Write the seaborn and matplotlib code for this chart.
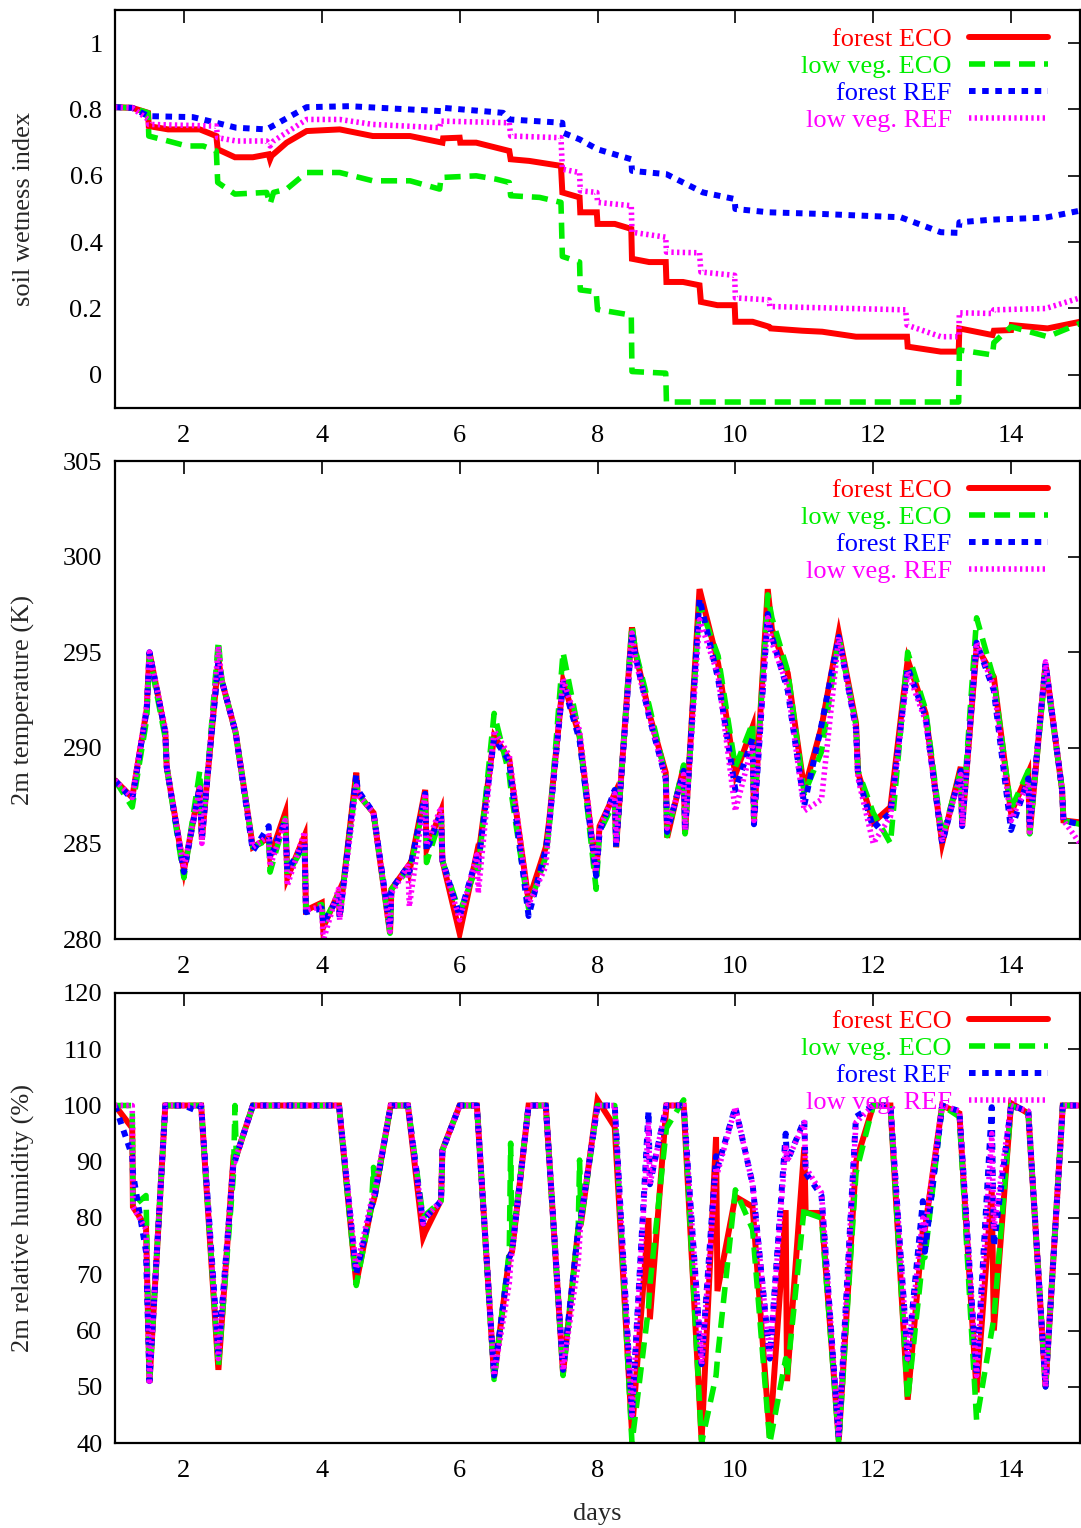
import matplotlib
matplotlib.use("Agg")
import matplotlib.pyplot as plt
import seaborn as sns

# ---------------- soil wetness index (each run has its own time axis) ----------------
sw_days_forest_eco = [1.0, 1.25, 1.48, 1.49, 1.77, 2.23, 2.47, 2.49, 2.74, 3.0, 3.23, 3.25, 3.27, 3.49, 3.78,
                      4.26, 4.74, 5.28, 5.75, 5.76, 6.0, 6.01, 6.24, 6.72, 6.74, 7.01, 7.47, 7.49, 7.74, 7.75,
                      7.99, 8.0, 8.25, 8.49, 8.5, 8.75, 8.99, 9.0, 9.24, 9.48, 9.5, 9.74, 9.99, 10.0, 10.25,
                      10.49, 10.51, 10.97, 11.26, 11.75, 12.49, 12.5, 12.98, 13.24, 13.25, 13.49, 13.73,
                      13.75, 14.0, 14.01, 14.53, 15.0]
sw_forest_eco = [0.807, 0.805, 0.79, 0.75, 0.74, 0.74, 0.72, 0.68, 0.656, 0.656, 0.665, 0.65, 0.66, 0.70, 0.735,
                 0.74, 0.72, 0.72, 0.70, 0.713, 0.715, 0.70, 0.70, 0.675, 0.65, 0.645, 0.63, 0.55, 0.535, 0.49,
                 0.49, 0.455, 0.455, 0.44, 0.35, 0.34, 0.34, 0.28, 0.28, 0.27, 0.22, 0.21, 0.21, 0.16, 0.16,
                 0.145, 0.14, 0.133, 0.13, 0.115, 0.115, 0.085, 0.07, 0.07, 0.14, 0.13, 0.12,
                 0.133, 0.135, 0.15, 0.14, 0.16]

sw_days_lowveg_eco = [1.0, 1.25, 1.48, 1.49, 1.77, 2.04, 2.28, 2.47, 2.49, 2.74, 3.2, 3.25, 3.3, 3.49, 3.78,
                      4.26, 4.74, 5.28, 5.71, 5.73, 6.24, 6.53, 6.72, 6.74, 7.16, 7.47, 7.49, 7.74, 7.75,
                      7.98, 8.0, 8.49, 8.5, 8.99, 9.0, 13.24, 13.25, 13.73, 13.75, 14.0, 14.53, 15.0]
sw_lowveg_eco = [0.807, 0.805, 0.79, 0.72, 0.705, 0.69, 0.69, 0.675, 0.58, 0.545, 0.55, 0.515, 0.55, 0.56, 0.61,
                 0.61, 0.585, 0.585, 0.56, 0.595, 0.60, 0.59, 0.58, 0.54, 0.535, 0.52, 0.357, 0.34, 0.256,
                 0.25, 0.197, 0.18, 0.01, 0.005, -0.082, -0.082, 0.075, 0.06, 0.097, 0.145, 0.115, 0.155]

sw_days_forest_ref = [1.0, 1.25, 1.48, 2.13, 2.47, 2.76, 3.2, 3.78, 4.4, 5.74, 5.76, 6.63, 6.72, 7.49, 7.5,
                      7.74, 8.0, 8.49, 8.5, 9.0, 9.53, 9.99, 10.0, 10.49, 11.26, 12.4, 12.98, 13.24, 13.25,
                      13.73, 14.5, 15.0]
sw_forest_ref = [0.807, 0.805, 0.78, 0.777, 0.76, 0.745, 0.74, 0.807, 0.81, 0.795, 0.805, 0.79, 0.77, 0.76, 0.73,
                 0.71, 0.68, 0.65, 0.615, 0.605, 0.55, 0.53, 0.50, 0.49, 0.485, 0.475, 0.43, 0.428, 0.46,
                 0.468, 0.474, 0.495]

sw_days_lowveg_ref = [1.0, 1.25, 1.48, 1.49, 2.47, 2.49, 2.76, 3.2, 3.25, 3.3, 3.78, 4.26, 4.74, 5.71, 5.73,
                      6.72, 6.74, 7.47, 7.49, 7.74, 7.75, 7.99, 8.0, 8.49, 8.5, 8.99, 9.0, 9.48, 9.5, 9.99,
                      10.0, 10.49, 10.5, 12.47, 12.49, 12.98, 13.24, 13.25, 13.73, 13.75, 14.5, 15.0]
sw_lowveg_ref = [0.807, 0.805, 0.77, 0.755, 0.75, 0.715, 0.705, 0.705, 0.69, 0.705, 0.77, 0.77, 0.755, 0.745, 0.765,
                 0.76, 0.72, 0.715, 0.62, 0.61, 0.555, 0.55, 0.52, 0.51, 0.43, 0.415, 0.37, 0.368, 0.31, 0.30,
                 0.232, 0.226, 0.206, 0.196, 0.15, 0.115, 0.115, 0.187, 0.185, 0.196, 0.20, 0.232]

# ---------------- 2m temperature (K), shared output times ----------------
t2m_days = [1.0, 1.25, 1.46, 1.5, 1.73, 1.75, 2.0, 2.23, 2.26, 2.36, 2.5, 2.55, 2.75, 3.0, 3.23, 3.25,
            3.47, 3.5, 3.75, 3.77, 4.0, 4.02, 4.24, 4.26, 4.5, 4.52, 4.75, 4.99, 5.01, 5.25, 5.27, 5.5,
            5.52, 5.73, 5.75, 6.0, 6.25, 6.27, 6.5, 6.72, 6.75, 7.0, 7.25, 7.3, 7.5, 7.74, 7.98, 8.03,
            8.25, 8.27, 8.5, 8.55, 8.75, 8.99, 9.01, 9.25, 9.27, 9.48, 9.75, 10.0, 10.25, 10.27, 10.47,
            10.53, 10.76, 11.0, 11.25, 11.5, 11.75, 11.78, 12.0, 12.25, 12.5, 12.76, 13.0, 13.27, 13.29,
            13.5, 13.75, 14.0, 14.25, 14.27, 14.5, 14.74, 14.76, 15.0]
t2m_forest_eco = [288.3, 287.4, 292.0, 295.0, 290.8, 289.0, 283.6, 288.0, 285.2, 289.2, 294.6, 293.5, 290.8,
                  284.8, 285.3, 284.3, 286.6, 283.2, 285.4, 281.5, 281.9, 280.6, 282.4, 281.2, 288.7, 287.6,
                  286.6, 280.3, 282.6, 283.8, 283.5, 287.8, 284.7, 286.7, 284.1, 280.3, 284.5, 284.3, 290.6,
                  289.4, 288.5, 282.0, 284.8, 286.2, 293.5, 290.6, 283.4, 285.9, 287.6, 284.8, 296.3, 295.0,
                  291.8, 288.7, 285.3, 289.0, 285.5, 298.3, 294.4, 288.6, 291.1, 286.2, 298.3, 296.2, 293.9,
                  287.8, 291.1, 296.0, 291.3, 288.7, 286.1, 286.9, 294.6, 291.8, 285.0, 289.0, 285.9, 295.3,
                  293.7, 286.6, 288.7, 285.5, 294.4, 287.8, 286.2, 286.1]
t2m_lowveg_eco = [288.3, 286.9, 291.5, 294.8, 290.5, 289.0, 283.2, 288.8, 285.6, 289.4, 295.6, 293.5, 290.8,
                  284.8, 285.2, 283.5, 286.3, 283.4, 284.9, 281.6, 281.8, 280.8, 282.3, 281.3, 288.2, 287.6,
                  286.6, 280.3, 282.6, 283.6, 283.4, 287.4, 284.0, 286.4, 284.1, 281.4, 283.8, 283.6, 291.8,
                  288.6, 287.6, 281.6, 284.3, 285.8, 295.0, 290.6, 282.6, 285.6, 287.2, 284.8, 296.4, 295.1,
                  292.2, 288.5, 285.4, 289.1, 285.5, 297.5, 294.8, 289.0, 291.3, 286.4, 298.0, 296.8, 294.0,
                  287.6, 289.8, 295.8, 291.2, 288.8, 286.6, 285.0, 295.0, 292.0, 285.3, 288.8, 286.0, 296.8,
                  293.6, 286.8, 288.8, 285.5, 294.2, 287.8, 286.2, 286.0]
t2m_forest_ref = [288.3, 287.3, 292.0, 295.0, 290.8, 289.0, 283.5, 288.0, 285.2, 289.2, 294.4, 293.5, 290.8,
                  284.6, 285.9, 284.2, 286.2, 283.6, 285.0, 281.4, 281.6, 280.8, 282.2, 281.1, 288.6, 287.8,
                  286.6, 280.6, 282.6, 283.8, 283.5, 287.6, 284.6, 286.6, 284.1, 281.2, 284.3, 284.0, 290.5,
                  289.3, 288.3, 281.2, 284.7, 286.0, 293.4, 290.4, 283.3, 285.6, 287.8, 284.8, 296.0, 294.8,
                  291.6, 288.4, 285.6, 288.8, 285.6, 297.8, 293.6, 287.8, 290.5, 286.0, 297.0, 295.8, 293.0,
                  287.0, 291.2, 295.8, 291.0, 288.5, 285.8, 286.6, 294.2, 291.6, 285.0, 288.8, 285.9, 295.5,
                  293.0, 285.7, 288.4, 285.8, 294.4, 287.8, 286.2, 286.0]
t2m_lowveg_ref = [288.3, 287.4, 292.2, 295.0, 291.0, 289.0, 283.7, 287.9, 285.0, 289.3, 295.3, 293.5, 290.8,
                  284.8, 285.4, 283.8, 286.2, 282.8, 285.6, 281.5, 281.7, 279.9, 282.6, 281.0, 288.0, 287.6,
                  286.6, 280.4, 282.4, 283.8, 281.7, 287.6, 284.9, 286.9, 284.1, 281.0, 284.4, 282.4, 290.9,
                  289.6, 288.8, 281.8, 283.8, 286.0, 293.6, 290.9, 283.5, 285.8, 287.6, 285.0, 296.0, 294.6,
                  291.7, 288.4, 285.8, 288.6, 285.7, 296.7, 293.8, 286.7, 290.2, 286.2, 296.8, 295.5, 293.2,
                  286.7, 287.3, 295.8, 291.0, 288.4, 285.0, 286.4, 294.0, 291.4, 285.2, 288.6, 285.9, 295.5,
                  293.2, 286.2, 288.2, 285.6, 294.5, 287.8, 286.2, 285.0]

# ---------------- 2m relative humidity (%), shared output times ----------------
rh_days = [1.0, 1.25, 1.26, 1.45, 1.5, 1.73, 2.0, 2.2, 2.25, 2.5, 2.72, 2.74, 2.76, 3.0, 3.5, 4.0, 4.25,
           4.5, 4.72, 4.75, 4.77, 5.0, 5.25, 5.47, 5.5, 5.73, 5.75, 6.0, 6.25, 6.5, 6.72, 6.74, 6.76, 7.0,
           7.25, 7.5, 7.72, 7.74, 7.76, 8.0, 8.25, 8.5, 8.74, 8.76, 9.0, 9.25, 9.51, 9.72, 9.74, 10.0,
           10.25, 10.5, 10.73, 10.75, 11.0, 11.02, 11.25, 11.5, 11.75, 12.0, 12.25, 12.5, 12.72, 12.75,
           13.0, 13.25, 13.5, 13.72, 13.75, 14.0, 14.25, 14.5, 14.75, 15.0]
rh_forest_eco = [100, 96, 82, 78.4, 50.7, 100, 100, 100, 100, 53, 90.9, 91, 91, 100, 100, 100, 100,
                 68.4, 82, 83, 84, 100, 100, 76.6, 77.5, 83.2, 92.1, 100, 100, 51.7, 73.1, 73.5, 74, 100,
                 100, 52.4, 78, 78.5, 79, 101, 96.2, 42, 80, 62, 100, 100, 40.5, 94.4, 67, 83.8,
                 82, 41, 81.4, 51, 92.6, 80.9, 80.9, 40.5, 90, 100, 100, 47.7, 78, 78,
                 100, 98.6, 49, 85, 60, 100.4, 98.6, 50, 100, 100]
rh_lowveg_eco = [100, 100, 82, 84, 50.7, 100, 100, 100, 100, 53.6, 88, 100, 91, 100, 100, 100, 100,
                 68, 82, 89, 84, 100, 100, 80, 80.5, 83, 92, 100, 100, 51.3, 74, 93.3, 75, 100,
                 100, 52, 78, 90.3, 79, 100, 100, 40, 64, 68, 96, 101, 40, 52, 55, 85,
                 78, 40, 55, 52, 82, 81, 80, 40, 88, 100, 100, 47.7, 73, 73,
                 100, 98, 44, 60, 62, 100, 98.6, 50, 100, 100]
rh_forest_ref = [100, 91, 88, 74, 51, 100, 100, 99, 100, 56, 90, 90, 91, 100, 100, 100, 100,
                 70, 82, 83, 84, 100, 100, 79, 80, 83, 92, 100, 100, 52, 73, 73.5, 74, 100,
                 100, 53, 78, 79, 80, 100, 100, 45, 99, 86, 100, 100, 54, 91, 89, 99.7,
                 86, 55, 95, 90, 97.4, 88, 84, 41, 98, 100, 100, 55, 83, 74,
                 100, 99, 52, 99.7, 75, 100, 99, 50, 100, 100]
rh_lowveg_ref = [100, 100, 82, 78, 51, 100, 100, 100, 100, 55, 90, 90, 91, 100, 100, 100, 100,
                 71, 83, 84, 85, 100, 100, 79, 80, 83, 92, 100, 100, 52, 68.4, 72, 74, 100,
                 100, 53, 72, 76, 80, 100, 100, 45, 97, 86, 100, 100, 54, 89, 88, 99.7,
                 86, 55, 93, 90, 97, 89, 84.5, 41, 97, 100, 100, 55, 80, 78,
                 100, 99, 52, 95, 78, 100, 99, 50, 100, 100]

labels = ["forest ECO", "low veg. ECO", "forest REF", "low veg. REF"]
colors = ["#ff0000", "#00ee00", "#0000ff", "#ff00ff"]
widths = [4.3, 4.0, 4.3, 4.0]
styles = ["-", (0, (2.9, 1.6)), (0, (1.1, 1.1)), (0, (0.42, 0.6))]

sns.set_theme(style="white")
plt.rcParams["font.family"] = ["Liberation Serif", "DejaVu Serif"]
plt.rcParams["font.size"] = 19

fig = plt.figure(figsize=(10.81, 15.28), dpi=100)
W, H = 1081, 1528
left, right = 115, 1080


def make_ax(top, bottom):
    ax = fig.add_axes([left / W, 1 - bottom / H, (right - left) / W, (bottom - top) / H])
    return ax


ax1 = make_ax(10, 408)
ax2 = make_ax(461, 939)
ax3 = make_ax(993, 1443)


def draw(ax, xs, ys):
    for x, y, lab, c, lw, ls in zip(xs, ys, labels, colors, widths, styles):
        sns.lineplot(x=x, y=y, ax=ax, sort=False, estimator=None, legend=False,
                     color=c, linewidth=lw, linestyle=ls, label=lab,
                     solid_joinstyle="miter", dash_capstyle="butt")


draw(ax1, [sw_days_forest_eco, sw_days_lowveg_eco, sw_days_forest_ref, sw_days_lowveg_ref],
     [sw_forest_eco, sw_lowveg_eco, sw_forest_ref, sw_lowveg_ref])
draw(ax2, [t2m_days] * 4, [t2m_forest_eco, t2m_lowveg_eco, t2m_forest_ref, t2m_lowveg_ref])
draw(ax3, [rh_days] * 4, [rh_forest_eco, rh_lowveg_eco, rh_forest_ref, rh_lowveg_ref])

ax1.set_ylim(-0.1, 1.1)
ax1.set_yticks([0, 0.2, 0.4, 0.6, 0.8, 1.0])
ax1.set_yticklabels(["0", "0.2", "0.4", "0.6", "0.8", "1"])
ax1.set_ylabel("soil wetness index", fontsize=19)

ax2.set_ylim(280, 305)
ax2.set_yticks(range(280, 306, 5))
ax2.set_ylabel("2m temperature (K)", fontsize=19)

ax3.set_ylim(40, 120)
ax3.set_yticks(range(40, 121, 10))
ax3.set_ylabel("2m relative humidity (%)", fontsize=19)

legend_tops = [28, 479, 1010]
for ax, ltop in zip([ax1, ax2, ax3], legend_tops):
    ax.set_xlim(1, 15)
    ax.set_xticks(range(2, 15, 2))
    ax.set_xlabel("")
    ax.yaxis.set_label_coords(-0.083, 0.5)
    ax.tick_params(direction="in", length=9, width=1.2, top=True, right=True,
                   labelsize=19, pad=9, colors="black")
    ax.tick_params(axis="x", pad=12)
    for sp in ax.spines.values():
        sp.set_linewidth(1.6)
        sp.set_color("black")
    ax.legend(loc="upper right", bbox_to_anchor=(1048 / W, 1 - ltop / H),
              bbox_transform=fig.transFigure, frameon=False, markerfirst=False,
              labelcolor="linecolor", handlelength=3.0, handletextpad=0.65,
              labelspacing=0.13, borderpad=0, borderaxespad=0, fontsize=19)

ax3.set_xlabel("days", fontsize=19)
ax3.xaxis.set_label_coords(0.5, -0.133)

fig.savefig("out.png", dpi=100)
